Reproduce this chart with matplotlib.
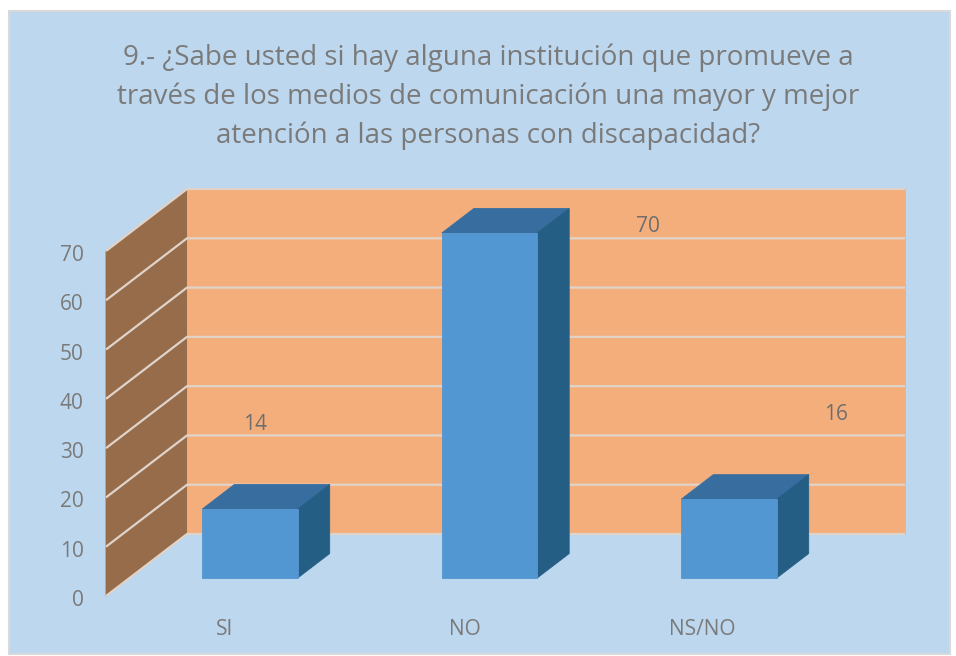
import matplotlib
matplotlib.use("Agg")
import matplotlib.pyplot as plt
from matplotlib.patches import Polygon, Rectangle
from matplotlib.transforms import ScaledTranslation

categories = ["SI", "NO", "NS/NO"]
values = [14, 70, 16]
y_ticks = [0, 10, 20, 30, 40, 50, 60, 70]
title = ("9.- ¿Sabe usted si hay alguna institución que promueve a\n"
         "través de los medios de comunicación una mayor y mejor\n"
         "atención a las personas con discapacidad?")

W, H = 956, 656
plt.rcParams["font.family"] = ["Open Sans", "DejaVu Sans"]
TEXT = "#7a7a7a"

fig = plt.figure(figsize=(W / 100, H / 100), dpi=100, facecolor="white")

def fx(px):
    return px / W

def fy(py):
    return 1 - py / H

# Chart background panel
fig.add_artist(Rectangle((fx(8.5), fy(654)), fx(941), 643 / H, transform=fig.transFigure,
                         facecolor="#bdd7ee", edgecolor="#d9d9d9", linewidth=1.5, zorder=-1))
fig.text(fx(488), fy(96.5), title, ha="center", va="center", color=TEXT, fontsize=20,
         linespacing=1.48)

# Front plane of the plot: category index on x, value on y
left_px, right_px, zero_px, top_px = 106, 824, 596, 251
cat0_px, cat_step_px = 250, 239.5
ax = fig.add_axes([fx(left_px), fy(zero_px), fx(right_px - left_px), (zero_px - top_px) / H])
ax.set_xlim((left_px - cat0_px) / cat_step_px, (right_px - cat0_px) / cat_step_px)
ax.set_ylim(0, 70)
ax.patch.set_alpha(0)
for s in ax.spines.values():
    s.set_visible(False)

DX = 81 / cat_step_px          # shift of the full depth in category units
DY = 62 / (zero_px - top_px) * 70  # shift of the full depth in value units

def project(x, v, d):
    return (x + d * DX, v + d * DY)

def poly(points, color, z, edge=None):
    ax.add_patch(Polygon(points, closed=True, facecolor=color, edgecolor=edge or color,
                         linewidth=0.6, zorder=z, clip_on=False))

x0, x1 = ax.get_xlim()
vmin, vmax = y_ticks[0], y_ticks[-1]

# Walls
poly([project(x0, vmin, 0), project(x0, vmin, 1), project(x0, vmax, 1), project(x0, vmax, 0)],
     "#966c4a", 1)
poly([project(x0, vmin, 1), project(x1, vmin, 1), project(x1, vmax, 1), project(x0, vmax, 1)],
     "#f4ae7c", 1)

# Gridlines
for t in y_ticks:
    xs = [project(x0, t, 0)[0], project(x0, t, 1)[0], project(x1, t, 1)[0]]
    ys = [project(x0, t, 0)[1], project(x0, t, 1)[1], project(x1, t, 1)[1]]
    ax.plot(xs, ys, color="#e0d3ca", lw=1.6, zorder=2, clip_on=False,
            solid_capstyle="butt")

# Bars
d_front, d_back = 0.29, 0.685
half = 47.7 / cat_step_px
for i, v in enumerate(values):
    xc = i - d_front * DX
    a, b = xc - half, xc + half
    poly([project(a, 0, d_front), project(b, 0, d_front), project(b, v, d_front), project(a, v, d_front)],
         "#5296d2", 5)
    poly([project(a, v, d_front), project(b, v, d_front), project(b, v, d_back), project(a, v, d_back)],
         "#376e9f", 4)
    poly([project(b, 0, d_front), project(b, 0, d_back), project(b, v, d_back), project(b, v, d_front)],
         "#255e85", 4)

# Axis labels
ax.set_yticks(y_ticks)
ax.tick_params(axis="y", length=0, pad=16, labelsize=15, labelcolor=TEXT)
nudge = ScaledTranslation(0, -2 / 100, fig.dpi_scale_trans)
for lab in ax.get_yticklabels():
    lab.set_transform(lab.get_transform() + nudge)
label_shift_px = [-25, -25, -27]
ax.set_xticks([i + s / cat_step_px for i, s in enumerate(label_shift_px)])
ax.set_xticklabels(categories)
ax.tick_params(axis="x", length=0, pad=16.5, labelsize=15, labelcolor=TEXT)

# Data labels (hand placed in the reference)
label_pos_px = [(255, 424), (648, 227), (836, 415)]
for v, (px, py) in zip(values, label_pos_px):
    fig.text(fx(px), fy(py), str(v), ha="center", va="center", color="#6e6e6e", fontsize=15, zorder=10)

fig.savefig("out.png", dpi=100, facecolor="white")
